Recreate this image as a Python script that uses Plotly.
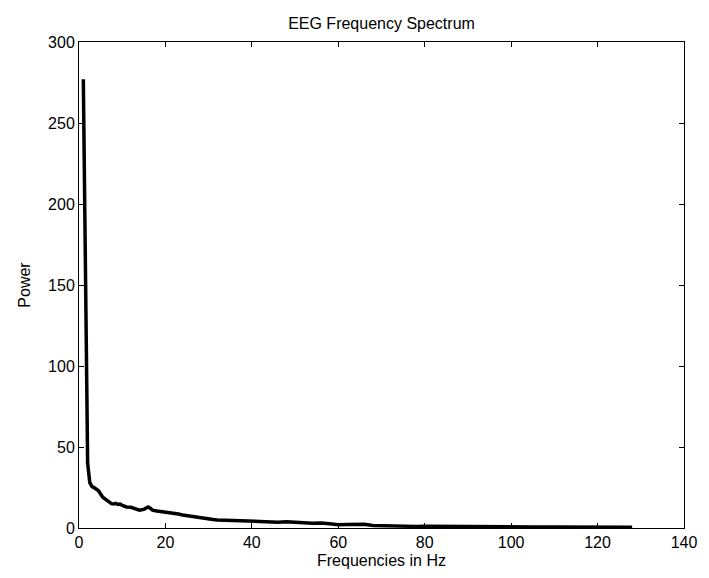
import plotly.graph_objects as go

freq = [1, 2, 2.5, 3, 3.5, 4, 4.5, 5, 5.5, 6, 6.5, 7, 7.5, 8, 8.5, 9, 9.5, 10, 11, 12,
        13, 14, 15, 16, 16.5, 17, 18, 19, 20, 21, 22, 23, 24, 25, 26, 27, 28, 29, 30, 31,
        32, 33, 34, 35, 36, 37, 38, 39, 40, 42, 44, 46, 48, 50, 52, 54, 56, 58, 60, 62,
        64, 66, 68, 70, 72, 74, 76, 78, 80, 85, 90, 95, 100, 105, 110, 115, 120, 125, 128]
power = [277, 40, 28, 25.5, 25, 24, 23, 21, 19, 18, 17, 15.5, 15, 14.8, 15.2, 14.5, 14.8, 14, 13, 12.8,
         11.8, 11, 11.5, 13, 12.2, 11, 10.5, 10.2, 9.8, 9.6, 9, 8.6, 8, 7.6, 6.8, 6.4, 6.2, 5.8, 5.5, 5.3,
         5, 4.9, 4.6, 4.7, 4.2, 4.3, 4, 4.1, 3.8, 3.7, 3.9, 3.6, 3.8, 3.3, 3.2, 3, 3.1, 2.6, 2.0, 2.2,
         2.4, 2.3, 1.6, 1.4, 1.3, 1.2, 1.1, 1.0, 1.1, 0.9, 0.8, 0.7, 0.7, 0.6, 0.6, 0.5, 0.5, 0.5, 0.5]

x_ticks = [0, 20, 40, 60, 80, 100, 120, 140]
y_ticks = [0, 50, 100, 150, 200, 250, 300]

font = "Liberation Sans, Arial, sans-serif"
fs = 16

fig = go.Figure()
fig.add_trace(go.Scatter(x=freq, y=power, mode="lines",
                         line=dict(color="black", width=3.5), showlegend=False))

fig.update_layout(
    width=709, height=578,
    margin=dict(l=79, r=16, t=42, b=50),
    paper_bgcolor="white", plot_bgcolor="white",
    font=dict(family=font, size=fs, color="black"),
    title=dict(text="EEG Frequency Spectrum", x=0.5, xref="paper", xanchor="center",
               y=1 - 23 / 578, yanchor="middle", font=dict(size=fs, family=font)),
)
axis_common = dict(showline=True, linecolor="black", linewidth=1, mirror="ticks",
                   ticks="inside", ticklen=5, tickcolor="black", tickwidth=1,
                   showgrid=False, zeroline=False,
                   tickfont=dict(size=fs, family=font))
fig.update_xaxes(range=[0, 140], tickvals=x_ticks, ticktext=[str(v) for v in x_ticks],
                 title=dict(text="Frequencies in Hz", standoff=4, font=dict(size=fs, family=font)),
                 **axis_common)
fig.update_yaxes(range=[0, 300], tickvals=y_ticks, ticktext=[str(v) for v in y_ticks],
                 title=dict(text="Power", standoff=13, font=dict(size=fs, family=font)),
                 **axis_common)

fig.write_html("out.html")
